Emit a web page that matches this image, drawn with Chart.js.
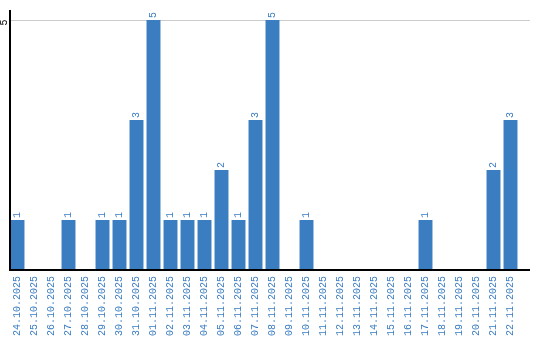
<!DOCTYPE html>
<html><head><meta charset="utf-8">
<script src="https://cdn.jsdelivr.net/npm/chart.js@4"></script>
<style>html,body{margin:0;padding:0;background:#fff}#w{width:540px;height:340px}</style>
</head><body><div id="w"><canvas id="c" width="540" height="340"></canvas></div>
<script>
const categories = ["24.10.2025","25.10.2025","26.10.2025","27.10.2025","28.10.2025","29.10.2025","30.10.2025","31.10.2025","01.11.2025","02.11.2025","03.11.2025","04.11.2025","05.11.2025","06.11.2025","07.11.2025","08.11.2025","09.11.2025","10.11.2025","11.11.2025","12.11.2025","13.11.2025","14.11.2025","15.11.2025","16.11.2025","17.11.2025","18.11.2025","19.11.2025","20.11.2025","21.11.2025","22.11.2025"];
const values = [1,0,0,1,0,1,1,3,5,1,1,1,2,1,3,5,0,1,0,0,0,0,0,0,1,0,0,0,2,3];
const yTicks = [5];

const BLUE = '#3b7dc1';
const FAMILY = '"Liberation Mono", "DejaVu Sans Mono", monospace';
const FONT = '10px ' + FAMILY;

const deco = {
  id: 'deco',
  beforeDatasetsDraw(chart) {
    const ctx = chart.ctx, a = chart.chartArea, y = chart.scales.y;
    ctx.save();
    ctx.strokeStyle = '#cccccc'; ctx.lineWidth = 1;
    yTicks.forEach(t => {
      const py = Math.round(y.getPixelForValue(t)) + 0.5;
      ctx.beginPath(); ctx.moveTo(a.left, py); ctx.lineTo(a.right + 11, py); ctx.stroke();
      ctx.save();
      ctx.fillStyle = '#000'; ctx.font = FONT;
      ctx.translate(a.left - 5, py + 2); ctx.rotate(-Math.PI/2);
      ctx.textAlign = 'center'; ctx.textBaseline = 'middle';
      ctx.fillText(String(t), 0, 0);
      ctx.restore();
    });
    ctx.restore();
  },
  afterDatasetsDraw(chart) {
    const ctx = chart.ctx, a = chart.chartArea;
    ctx.save();
    ctx.strokeStyle = '#000'; ctx.lineWidth = 2;
    ctx.beginPath(); ctx.moveTo(a.left + 1, a.top); ctx.lineTo(a.left + 1, a.bottom); ctx.stroke();
    ctx.beginPath(); ctx.moveTo(a.left, a.bottom); ctx.lineTo(a.right + 11, a.bottom); ctx.stroke();
    const meta = chart.getDatasetMeta(0);
    ctx.fillStyle = BLUE; ctx.font = FONT;
    meta.data.forEach((bar, i) => {
      const v = values[i];
      if (!v) return;
      ctx.save();
      ctx.translate(bar.x, bar.y - 2);
      ctx.rotate(-Math.PI/2);
      ctx.textAlign = 'left'; ctx.textBaseline = 'middle';
      ctx.fillText(String(v), 0, 0);
      ctx.restore();
    });
    ctx.restore();
  }
};

new Chart(document.getElementById('c'), {
  type: 'bar',
  data: { labels: categories, datasets: [{ data: values, backgroundColor: BLUE, borderWidth: 0, barPercentage: 0.82, categoryPercentage: 1 }] },
  options: {
    responsive: false, animation: false,
    layout: { padding: { left: 9, right: 21, top: 10, bottom: 0 } },
    plugins: { legend: { display: false }, tooltip: { enabled: false } },
    scales: {
      x: {
        grid: { display: false, drawTicks: false }, border: { display: false },
        ticks: { color: BLUE, font: { family: FAMILY, size: 10 }, minRotation: 90, maxRotation: 90, autoSkip: false, padding: 6 },
        afterFit(s) { s.height = 70; }
      },
      y: {
        min: 0, max: 5.2,
        grid: { display: false, drawTicks: false }, border: { display: false },
        ticks: { display: false },
        afterFit(s) { s.width = 0; }
      }
    }
  },
  plugins: [deco]
});
</script>
</body></html>
